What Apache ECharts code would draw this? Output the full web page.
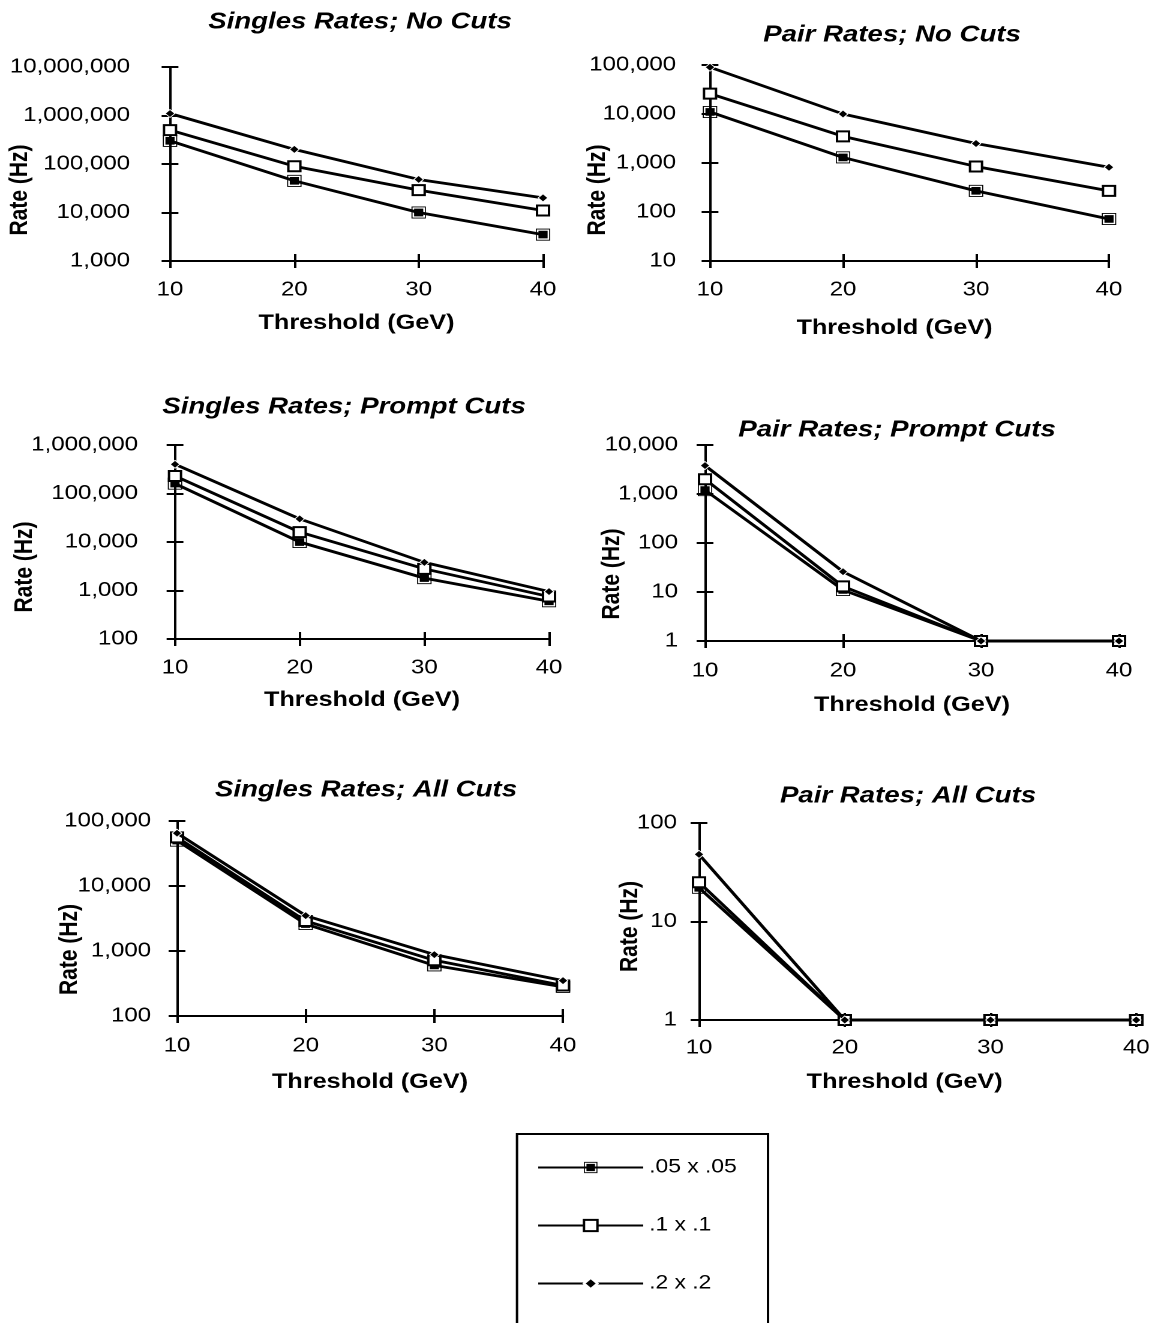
<!DOCTYPE html>
<html>
<head>
<meta charset="utf-8">
<script src="https://cdn.jsdelivr.net/npm/echarts@6/dist/echarts.min.js"></script>
<style>
html,body{margin:0;padding:0;background:#fff;overflow:hidden;}
#wrap{width:1153px;height:1323px;overflow:hidden;}
#chart{height:1323px;transform-origin:0 0;}
</style>
</head>
<body>
<div id="wrap"><div id="chart"></div></div>
<script>
// ---- data ----
const thresholds = [10, 20, 30, 40];
const seriesNames = ['.05 x .05', '.1 x .1', '.2 x .2'];

const singlesNoCuts05 = [300000, 45000, 10000, 3500];
const singlesNoCuts1  = [500000, 90000, 29000, 11000];
const singlesNoCuts2  = [1100000, 200000, 48000, 20000];

const pairNoCuts05 = [11000, 1300, 270, 72];
const pairNoCuts1  = [26000, 3500, 850, 270];
const pairNoCuts2  = [90000, 10000, 2500, 820];

const singlesPrompt05 = [160000, 10000, 1800, 600];
const singlesPrompt1  = [230000, 16000, 2800, 750];
const singlesPrompt2  = [400000, 30000, 3800, 950];

const pairPrompt05 = [1200, 11, 1, 1];
const pairPrompt1  = [2000, 13, 1, 1];
const pairPrompt2  = [3800, 26, 1, 1];

const singlesAll05 = [50000, 2600, 600, 280];
const singlesAll1  = [56000, 2900, 720, 295];
const singlesAll2  = [65000, 3500, 880, 350];

const pairAll05 = [22, 1, 1, 1];
const pairAll1  = [25, 1, 1, 1];
const pairAll2  = [48, 1, 1, 1];

const panelTitles = [
  'Singles Rates; No Cuts', 'Pair Rates; No Cuts',
  'Singles Rates; Prompt Cuts', 'Pair Rates; Prompt Cuts',
  'Singles Rates; All Cuts', 'Pair Rates; All Cuts'
];
const panelData = [
  [singlesNoCuts05, singlesNoCuts1, singlesNoCuts2],
  [pairNoCuts05, pairNoCuts1, pairNoCuts2],
  [singlesPrompt05, singlesPrompt1, singlesPrompt2],
  [pairPrompt05, pairPrompt1, pairPrompt2],
  [singlesAll05, singlesAll1, singlesAll2],
  [pairAll05, pairAll1, pairAll2]
];
const yMin = [1e3, 10, 100, 1, 100, 1];
const yMax = [1e7, 1e5, 1e6, 1e4, 1e5, 100];

// ---- layout (reference pixels; the drawing is stretched horizontally by SX like the original) ----
const SX = 1.2;
const W = 1153, H = 1323;
const FONT = '"Liberation Sans", Arial, sans-serif';
const layout = [
  {left:170, right:543,  top:67,  bottom:261,  titleX:360, titleY:22,  nameX:20,  nameDy:26, yMargin:40, xMargin:19, xNameY:323,  xNameDx:0},
  {left:710, right:1109, top:65,  bottom:261,  titleX:892, titleY:35,  nameX:598, nameDy:27, yMargin:34, xMargin:19, xNameY:328,  xNameDx:-15},
  {left:175, right:549,  top:445, bottom:639,  titleX:344, titleY:407, nameX:25,  nameDy:25, yMargin:37, xMargin:19, xNameY:700,  xNameDx:0},
  {left:705, right:1119, top:445, bottom:641,  titleX:897, titleY:430, nameX:612, nameDy:31, yMargin:27, xMargin:20, xNameY:705,  xNameDx:0},
  {left:177, right:563,  top:821, bottom:1016, titleX:366, titleY:790, nameX:70,  nameDy:31, yMargin:26, xMargin:20, xNameY:1082, xNameDx:0},
  {left:699, right:1138, top:823, bottom:1020, titleX:908, titleY:796, nameX:630, nameDy:5,  yMargin:22, xMargin:18, xNameY:1082, xNameDx:-13}
];

const TICK_FS = 20, NAME_FS = 21, TITLE_FS = 23, LEG_FS = 19;

// filled square inside a thin square frame
const framedSquare = 'path://M0,0L22,0L22,22L0,22Z M1.6,1.6L1.6,20.4L20.4,20.4L20.4,1.6Z M4,4L18,4L18,18L4,18Z';
const symbols = [
  {symbol:framedSquare, symbolSize:12, symbolKeepAspect:true, itemStyle:{color:'#000'}},
  {symbol:'rect', symbolSize:10, itemStyle:{color:'#fff', borderColor:'#000', borderWidth:2}},
  {symbol:'diamond', symbolSize:8, itemStyle:{color:'#000', borderColor:'#fff', borderWidth:0.8}}
];

const fmt = v => Math.round(v).toLocaleString('en-US');
const axisLine = {show:true, lineStyle:{color:'#000', width:2}};
const tickStyle = {color:'#000', width:2};

const grid = [], xAxis = [], yAxis = [], series = [], graphic = [];

layout.forEach((L, i) => {
  grid.push({left:L.left / SX, top:L.top, width:(L.right - L.left) / SX, height:L.bottom - L.top});
  xAxis.push({
    type:'value', gridIndex:i, min:10, max:40, interval:10,
    axisLine, axisTick:{show:true, inside:false, length:7, lineStyle:tickStyle},
    splitLine:{show:false},
    axisLabel:{color:'#000', fontSize:TICK_FS, fontFamily:FONT, margin:L.xMargin},
    name:'Threshold (GeV)', nameLocation:'middle', nameMoveOverlap:false,
    nameGap: L.xNameY - NAME_FS / 2 - L.bottom,
    nameTextStyle:{color:'#000', fontSize:NAME_FS, fontWeight:'bold', fontFamily:FONT,
      padding: L.xNameDx < 0 ? [0, -2 * L.xNameDx / SX, 0, 0] : 0}
  });
  xAxis.push({
    type:'value', gridIndex:i, min:10, max:40, interval:10, position:'bottom',
    axisLine:{show:false}, axisTick:{show:true, inside:true, length:7, lineStyle:tickStyle},
    splitLine:{show:false}, axisLabel:{show:false}
  });
  const nDec = Math.round(Math.log10(yMax[i] / yMin[i]));
  yAxis.push({
    type:'log', logBase:10, gridIndex:i, min:yMin[i], max:yMax[i], splitNumber:nDec,
    axisLine, axisTick:{show:true, inside:false, length:7, lineStyle:tickStyle},
    minorTick:{show:false}, splitLine:{show:false},
    axisLabel:{color:'#000', fontSize:TICK_FS, fontFamily:FONT, margin:L.yMargin / SX, formatter:fmt},
    name:'Rate (Hz)', nameLocation:'middle', nameRotate:90, nameMoveOverlap:false,
    nameGap:(L.left - L.nameX) / SX - NAME_FS / 2,
    nameTextStyle:{color:'#000', fontSize:NAME_FS, fontWeight:'bold', fontFamily:FONT,
      padding:[0, 2 * L.nameDy, 0, 0]}
  });
  yAxis.push({
    type:'log', logBase:10, gridIndex:i, min:yMin[i], max:yMax[i], position:'left', splitNumber:nDec,
    axisLine:{show:false}, axisTick:{show:true, inside:true, length:7, lineStyle:tickStyle},
    minorTick:{show:false}, splitLine:{show:false}, axisLabel:{show:false}
  });
  panelData[i].forEach((vals, k) => {
    series.push(Object.assign({
      type:'line', name:seriesNames[k],
      xAxisIndex:2 * i, yAxisIndex:2 * i,
      data: thresholds.map((t, j) => [t, vals[j]]),
      lineStyle:{color:'#000', width:2.8},
      showAllSymbol:true, clip:false, animation:false,
      z: 3 + k
    }, symbols[k]));
  });
  graphic.push({
    type:'text', x:L.titleX / SX, y:L.titleY,
    style:{text:panelTitles[i], align:'center', verticalAlign:'middle',
      font:'italic bold ' + TITLE_FS + 'px ' + FONT, fill:'#000'}
  });
});

// legend frame
graphic.push({
  type:'rect', shape:{x:517 / SX, y:1134, width:251 / SX, height:260},
  style:{fill:null, stroke:'#000', lineWidth:2}
});

const el = document.getElementById('chart');
el.style.width = (W / SX) + 'px';
el.style.transform = 'scaleX(' + SX + ')';

const chart = echarts.init(el, null, {renderer:'canvas', devicePixelRatio:2});
chart.setOption({
  backgroundColor:'#fff',
  animation:false,
  grid, xAxis, yAxis, series, graphic,
  legend:{
    data: seriesNames, orient:'vertical', left:537 / SX, top:1158,
    itemWidth:105 / SX, itemHeight:14, itemGap:39, padding:0,
    textStyle:{color:'#000', fontSize:LEG_FS, fontFamily:FONT}
  }
});
</script>
</body>
</html>
